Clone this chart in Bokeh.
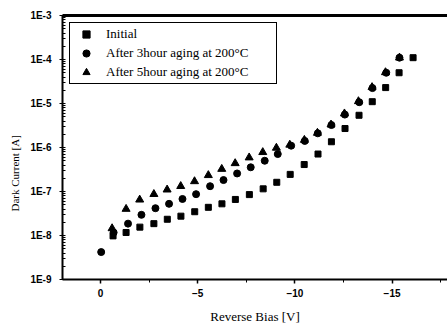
from bokeh.plotting import figure
from bokeh.models import (Range1d, SingleIntervalTicker, FixedTicker, CustomJSTickFormatter,
                          Legend, LegendItem, Title)
from bokeh.embed import file_html
from bokeh.resources import INLINE

# ---- data ----
bias_initial = [-0.65, -1.32, -2.03, -2.75, -3.44, -4.14, -4.85, -5.55, -6.25, -6.94, -7.66, -8.37,
                -9.07, -9.76, -10.48, -11.19, -11.88, -12.58, -13.30, -13.98, -14.67, -15.36, -16.08]
current_initial = [9.8e-9, 1.17e-8, 1.55e-8, 1.86e-8, 2.34e-8, 2.75e-8, 3.47e-8, 4.37e-8, 5.25e-8,
                   6.6e-8, 8.5e-8, 1.15e-7, 1.62e-7, 2.45e-7, 4.1e-7, 7.1e-7, 1.35e-6, 2.7e-6,
                   5.4e-6, 1.1e-5, 2.3e-5, 5.0e-5, 1.1e-4]

bias_3h = [-0.04, -0.68, -1.42, -2.11, -2.83, -3.53, -4.22, -4.92, -5.64, -6.33, -7.03, -7.73,
           -8.45, -9.12, -9.81, -10.51, -11.18, -11.88, -12.57, -13.31, -13.99, -14.70, -15.38]
current_3h = [4.2e-9, 1.17e-8, 1.86e-8, 2.95e-8, 4.17e-8, 5.25e-8, 6.76e-8, 8.7e-8, 1.32e-7,
              1.82e-7, 2.57e-7, 3.55e-7, 5.0e-7, 7.1e-7, 1.1e-6, 1.41e-6, 2.1e-6, 3.24e-6,
              5.6e-6, 1.07e-5, 2.24e-5, 5.0e-5, 1.1e-4]

bias_5h = [-0.60, -1.32, -2.02, -2.75, -3.43, -4.13, -4.84, -5.55, -6.24, -6.93, -7.65, -8.35,
           -9.05, -9.74, -10.49, -11.16, -11.86, -12.55, -13.27, -13.97, -14.66, -15.38]
current_5h = [1.45e-8, 4.0e-8, 6.5e-8, 8.7e-8, 1.1e-7, 1.32e-7, 1.7e-7, 2.34e-7, 3.24e-7,
              4.37e-7, 5.9e-7, 7.8e-7, 9.8e-7, 1.15e-6, 1.48e-6, 2.14e-6, 3.3e-6, 5.9e-6,
              1.12e-5, 2.34e-5, 5.1e-5, 1.1e-4]

series_labels = ["Initial", "After 3hour aging at 200\u00b0C", "After 5hour aging at 200\u00b0C"]
x_label = "Reverse Bias [V]"
y_label = "Dark Current [A]"
y_decades = [-9, -8, -7, -6, -5, -4, -3]
top_edge = [1e-3]

SERIF = "Liberation Serif"
SANS = "Liberation Sans"

p = figure(width=447, height=326, output_backend="svg", toolbar_location=None,
           y_axis_type="log",
           x_range=Range1d(1.95, -17.85), y_range=Range1d(1e-9, 1e-3),
           min_border_left=62, min_border_right=0, min_border_top=15, min_border_bottom=42)
p.outline_line_color = None
p.xgrid.visible = False
p.ygrid.visible = False
p.background_fill_color = "white"
p.border_fill_color = "white"

# top frame line (as a glyph, drawn above everything)
p.hspan(y=top_edge, line_color="black", line_width=3, level="overlay")

r0 = p.scatter(bias_initial, current_initial, marker="square", size=6, color="black")
r1 = p.scatter(bias_3h, current_3h, marker="circle", size=7, color="black")
r2 = p.scatter(bias_5h, current_5h, marker="triangle", size=8, color="black")

# x axis
xa = p.xaxis[0]
xa.ticker = SingleIntervalTicker(interval=5, num_minor_ticks=2)
xa.axis_label = x_label
xa.axis_label_text_font = SERIF
xa.axis_label_text_font_style = "normal"
xa.axis_label_text_font_size = "13px"
xa.axis_label_text_color = "black"
xa.axis_label_standoff = 9
xa.major_label_text_font = SANS
xa.major_label_text_font_style = "bold"
xa.major_label_text_font_size = "10px"
xa.major_label_text_color = "black"
xa.major_label_standoff = 5
xa.axis_line_width = 2
xa.axis_line_color = "black"
xa.major_tick_line_color = "black"
xa.minor_tick_line_color = "black"
xa.major_tick_in = 0
xa.major_tick_out = 4
xa.minor_tick_in = 0
xa.minor_tick_out = 3
xa.major_tick_line_width = 1.5

# y axis
ya = p.yaxis[0]
minor = [k * 10.0 ** e for e in y_decades[:-1] for k in range(2, 10)]
ya.ticker = FixedTicker(ticks=[10.0 ** e for e in y_decades], minor_ticks=minor)
ya.formatter = CustomJSTickFormatter(code="return '1E' + Math.round(Math.log10(tick));")
ya.major_label_text_font = SANS
ya.major_label_text_font_style = "bold"
ya.major_label_text_font_size = "10px"
ya.major_label_text_color = "black"
ya.major_label_standoff = 8
ya.axis_line_width = 2
ya.axis_line_color = "black"
ya.major_tick_line_color = "black"
ya.minor_tick_line_color = "black"
ya.major_tick_in = 3
ya.major_tick_out = 3
ya.minor_tick_in = 3
ya.minor_tick_out = 0

# y axis label as a left-side title placed a bit below centre like the reference
ytitle = Title(text=y_label, align="left", offset=68, standoff=13,
               text_font=SERIF, text_font_size="11px", text_font_style="normal",
               text_color="black")
p.add_layout(ytitle, "left")

legend = Legend(items=[LegendItem(label=series_labels[0], renderers=[r0]),
                       LegendItem(label=series_labels[1], renderers=[r1]),
                       LegendItem(label=series_labels[2], renderers=[r2])],
                location="top_left")
legend.label_text_font = SERIF
legend.label_text_font_size = "13px"
legend.label_text_color = "black"
legend.border_line_color = "black"
legend.border_line_width = 1
legend.border_line_alpha = 1
legend.background_fill_color = "white"
legend.background_fill_alpha = 1
legend.padding = 2
legend.spacing = 1
legend.label_height = 18
legend.glyph_height = 18
legend.glyph_width = 28
legend.label_standoff = 6
legend.label_width = 168
legend.margin = 7
p.add_layout(legend)

open("out.html", "w").write(file_html(p, INLINE))
